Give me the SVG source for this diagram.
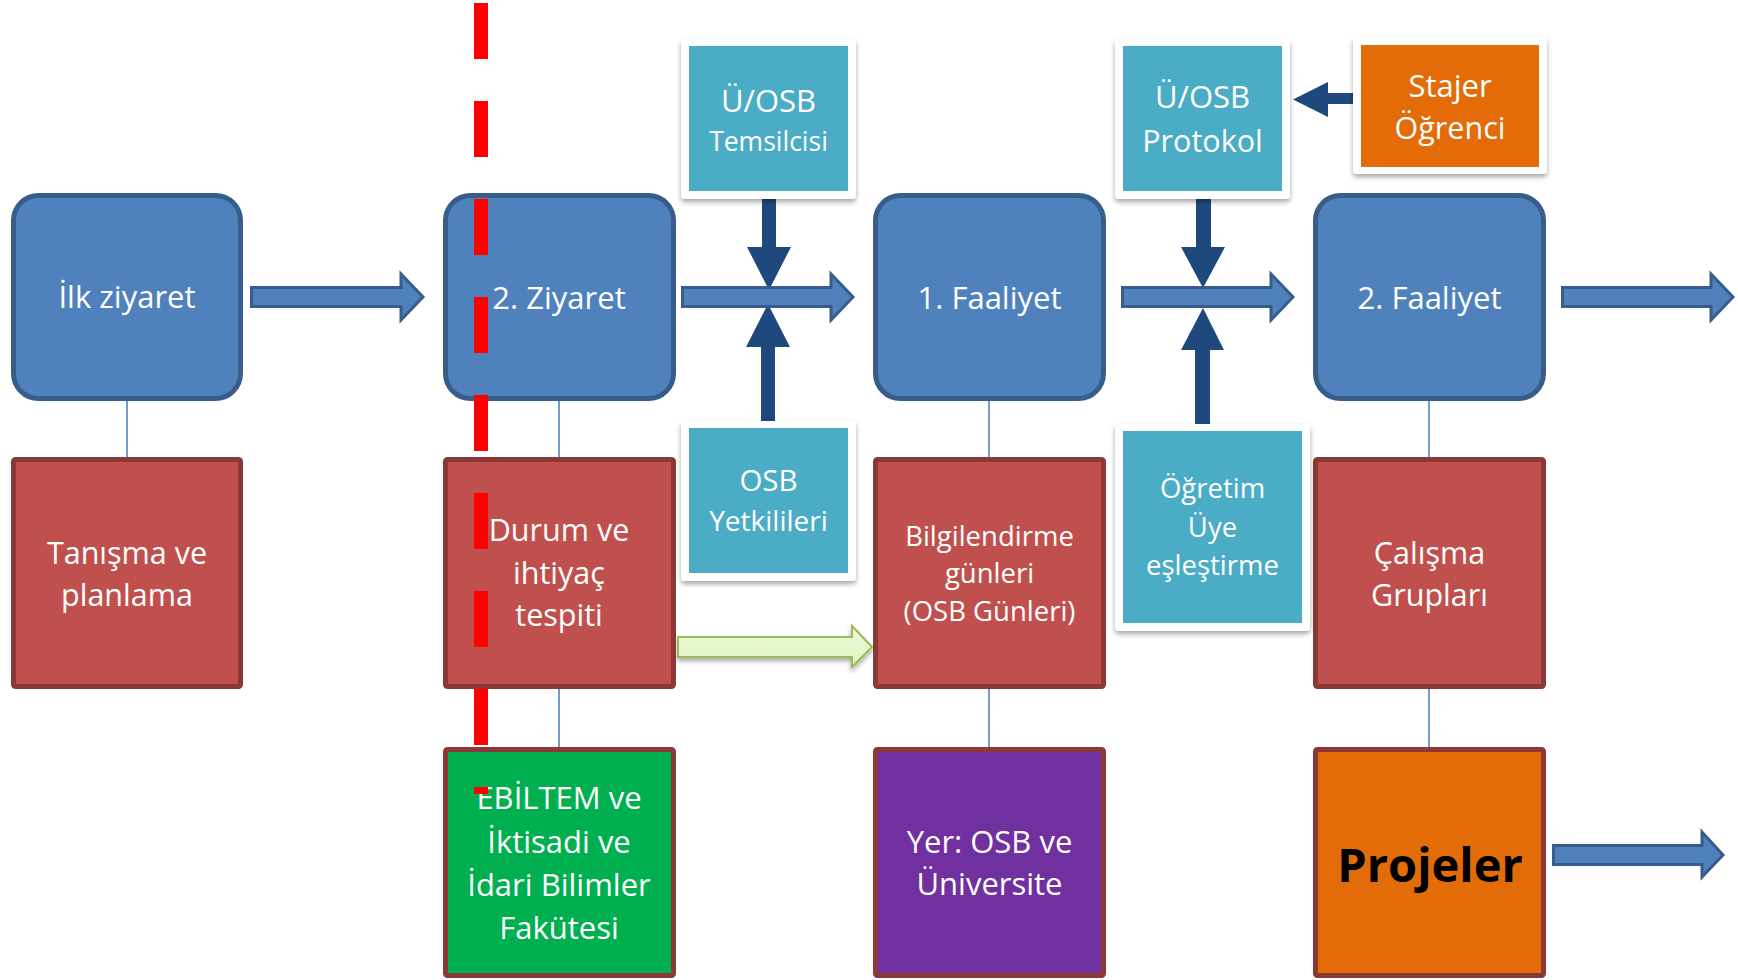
<svg xmlns="http://www.w3.org/2000/svg" width="1738" height="980" viewBox="0 0 1738 980">
<defs>
<filter id="sh" x="-10%" y="-10%" width="120%" height="125%">
<feDropShadow dx="0" dy="3" stdDeviation="2.5" flood-color="#000" flood-opacity="0.35"/>
</filter>
<linearGradient id="gg" x1="0" y1="0" x2="0" y2="1">
<stop offset="0" stop-color="#EEF9DA"/>
<stop offset="1" stop-color="#DDF7BE"/>
</linearGradient>
</defs>
<style>
text{font-family:"Open Sans","Liberation Sans",sans-serif;fill:#fff;text-anchor:middle}
.blue{fill:#4F81BD;stroke:#385D8A;stroke-width:5}
.red{fill:#C0504D;stroke:#8C3836;stroke-width:5}
.frame{fill:#fff;filter:url(#sh)}
.teal{fill:#4BACC6}
.conn{stroke:#4F81BD;stroke-width:1.6;fill:none}
.barrow{fill:#4F81BD;stroke:#385D8A;stroke-width:3}
.darrow{fill:#1F497D}
.t31{font-size:31px}
.t30{font-size:30.5px}
.t27{font-size:27.5px}
</style>

<g id="connectors">
<path class="conn" d="M127,401V457M559,401V457M559,689V747M989,401V457M989,689V747M1429,401V457M1429,689V747"/>
<path class="darrow" d="M762,199H776V247H791L769,290L747,247H762Z"/>
<path class="darrow" d="M761,428H775V347H790L768,304L746,347H761Z"/>
<path class="darrow" d="M1196,199H1211V247H1225L1203,288L1181,247H1196Z"/>
<path class="darrow" d="M1195,431H1210V350H1224L1203,308L1181,350H1195Z"/>
<path class="darrow" d="M1353,93V104H1328V117L1293,99.5L1328,82V93Z"/>
<path class="barrow" d="M251.5,287.5H401V274L423,297L401,320V306.5H251.5Z"/>
<path class="barrow" d="M682.5,287.5H831V274L853,297L831,320V306.5H682.5Z"/>
<path class="barrow" d="M1122.5,287.5H1271V274L1293,297L1271,320V306.5H1122.5Z"/>
<path class="barrow" d="M1562.5,287.5H1711V274L1733,297L1711,320V306.5H1562.5Z"/>
<path class="barrow" d="M1553.5,845.5H1702V832L1723,855L1702,877V864.5H1553.5Z"/>
<path d="M678,637H852V626L872,647L852,667V657H678Z" fill="url(#gg)" stroke="#9BBB59" stroke-width="2" filter="url(#sh)"/>
</g>

<g id="ilk-ziyaret">
<rect class="blue" x="13.5" y="195.5" width="227" height="203" rx="25"/>
<text class="t31" x="127" y="308">İlk ziyaret</text>
</g>
<g id="ziyaret2">
<rect class="blue" x="445.5" y="195.5" width="228" height="203" rx="25"/>
<text class="t31" x="559" y="309">2. Ziyaret</text>
</g>
<g id="faaliyet1">
<rect class="blue" x="875.5" y="195.5" width="228" height="203" rx="25"/>
<text class="t31" x="989.5" y="309">1. Faaliyet</text>
</g>
<g id="faaliyet2">
<rect class="blue" x="1315.5" y="195.5" width="228" height="203" rx="25"/>
<text class="t31" x="1429.5" y="309">2. Faaliyet</text>
</g>

<g id="tanisma">
<rect class="red" x="13.5" y="459.5" width="227" height="227" rx="2"/>
<text class="t30" x="127" y="564">Tanışma ve</text>
<text class="t30" x="127" y="606">planlama</text>
</g>
<g id="durum">
<rect class="red" x="445.5" y="459.5" width="228" height="227" rx="2"/>
<text class="t30" x="559" y="541">Durum ve</text>
<text class="t30" x="559" y="584">ihtiyaç</text>
<text class="t30" x="559" y="626">tespiti</text>
</g>
<g id="bilgilendirme">
<rect class="red" x="875.5" y="459.5" width="228" height="227" rx="2"/>
<text class="t27" x="989.5" y="546">Bilgilendirme</text>
<text class="t27" x="989.5" y="583">günleri</text>
<text class="t27" x="989.5" y="621">(OSB Günleri)</text>
</g>
<g id="calisma">
<rect class="red" x="1315.5" y="459.5" width="228" height="227" rx="2"/>
<text class="t30" x="1429.5" y="564">Çalışma</text>
<text class="t30" x="1429.5" y="606">Grupları</text>
</g>

<g id="ebiltem">
<rect x="445.5" y="749.5" width="228" height="226" rx="2" fill="#00B050" stroke="#8C3836" stroke-width="5"/>
<text class="t31" x="559" y="809">EBİLTEM ve</text>
<text class="t31" x="559" y="853">İktisadi ve</text>
<text class="t31" x="559" y="896">İdari Bilimler</text>
<text class="t31" x="559" y="939">Fakütesi</text>
</g>
<g id="yer">
<rect x="875.5" y="749.5" width="228" height="226" rx="2" fill="#7030A0" stroke="#8C3836" stroke-width="5"/>
<text class="t31" x="989.5" y="853">Yer: OSB ve</text>
<text class="t31" x="989.5" y="895">Üniversite</text>
</g>
<g id="projeler">
<rect x="1315.5" y="749.5" width="228" height="226" rx="2" fill="#E36C09" stroke="#8C3836" stroke-width="5"/>
<text x="1430" y="882" style="font-size:47px;font-weight:bold;fill:#000">Projeler</text>
</g>

<g id="temsilcisi">
<rect class="frame" x="681" y="39" width="175" height="160" rx="4"/>
<rect class="teal" x="689" y="46" width="159" height="145"/>
<text class="t31" x="768.5" y="112">Ü/OSB</text>
<text x="768.5" y="151" style="font-size:26.5px">Temsilcisi</text>
</g>
<g id="yetkilileri">
<rect class="frame" x="681" y="421" width="175" height="160" rx="4"/>
<rect class="teal" x="689" y="428" width="159" height="145"/>
<text x="768.5" y="491" style="font-size:29.5px">OSB</text>
<text x="768.5" y="531" style="font-size:28px">Yetkilileri</text>
</g>
<g id="protokol">
<rect class="frame" x="1115" y="39" width="175" height="160" rx="4"/>
<rect class="teal" x="1123" y="46" width="159" height="145"/>
<text class="t31" x="1202.5" y="108">Ü/OSB</text>
<text class="t30" x="1202.5" y="152">Protokol</text>
</g>
<g id="ogretim">
<rect class="frame" x="1115" y="424" width="195" height="207" rx="4"/>
<rect class="teal" x="1123" y="431" width="179" height="192"/>
<text class="t27" x="1212.5" y="498">Öğretim</text>
<text class="t27" x="1212.5" y="537">Üye</text>
<text class="t27" x="1212.5" y="575">eşleştirme</text>
</g>
<g id="stajer">
<rect class="frame" x="1353" y="37" width="194" height="137" rx="4"/>
<rect x="1361" y="45" width="178" height="122" fill="#E36C09"/>
<text class="t31" x="1450" y="97">Stajer</text>
<text class="t30" x="1450" y="139">Öğrenci</text>
</g>

<g id="red-dashed-line">
<path d="M481,3V794" stroke="#FF0000" stroke-width="14" stroke-dasharray="56 42" fill="none"/>
</g>
</svg>
